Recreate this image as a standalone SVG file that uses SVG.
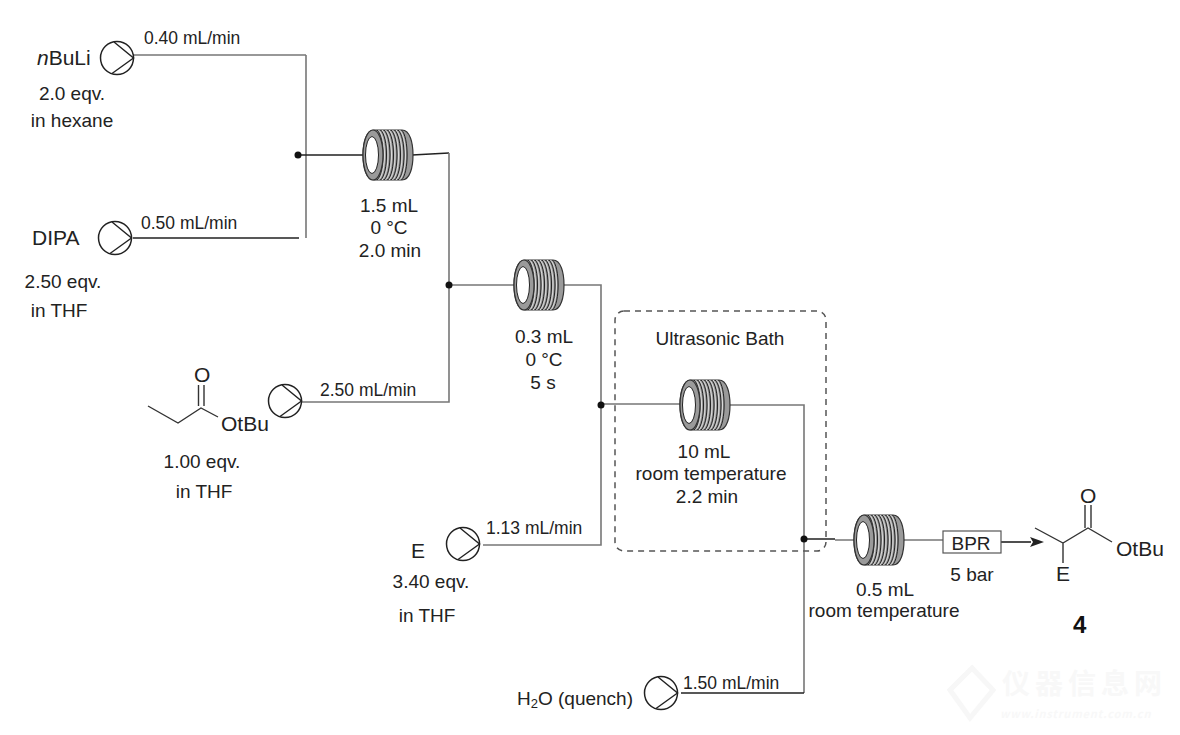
<svg xmlns="http://www.w3.org/2000/svg" width="1180" height="735" viewBox="0 0 1180 735">
<style>
text{font-family:"Liberation Sans",Arial,sans-serif;font-size:19px;fill:#222}
.m{text-anchor:middle}
.flow{font-size:17.500px}
.big{font-size:21px}
.fl{stroke:#777;stroke-width:1.6;fill:none}
.dk{stroke:#222;stroke-width:1.6;fill:none}
.bond{stroke:#333;stroke-width:1.4;fill:none}
.wm{font-family:"Noto Sans CJK SC","Liberation Sans",sans-serif;fill:#f8f8f8;font-weight:700}
</style>
<defs>
<g id="pump"><circle r="16.500" fill="#fff" stroke="#222" stroke-width="1.500"/><path d="M-3-16 16.500 0-5 15.500" fill="none" stroke="#222" stroke-width="1.400"/></g>
<g id="coil">
<path d="M-14-25H14C22-25 25-12 25 0S22 25 14 25H-14C-22 25-25 12-25 0S-22-25-14-25Z" fill="#9a9a9a" stroke="#333" stroke-width="1.200"/>
<path d="M-11-25C-3-18-3 18-11 25M-7.500-25C.5-18 .5 18-7.500 25M-4-25C4-18 4 18-4 25M-.5-25C7.500-18 7.500 18-.5 25M3-25C11-18 11 18 3 25M6.500-25C14.500-18 14.500 18 6.500 25M10-25C18-18 18 18 10 25M13.500-25C21-18 21 18 13.500 25" fill="none" stroke="#222" stroke-width="1"/>
<path d="M-9.500-25C-1.500-18-1.500 18-9.500 25M-6-25C2-18 2 18-6 25M-2.500-25C5.500-18 5.500 18-2.500 25M1-25C9-18 9 18 1 25M4.500-25C12.500-18 12.500 18 4.500 25M8-25C16-18 16 18 8 25M11.500-25C19.500-18 19.500 18 11.500 25" fill="none" stroke="#ddd" stroke-width="1"/>
<ellipse cx="-15" cy="0" rx="10" ry="25" fill="#9a9a9a" stroke="#333" stroke-width="1.200"/>
<ellipse cx="-16" cy="0" rx="6.500" ry="18.500" fill="#fff" stroke="#222" stroke-width="1"/>
</g>
</defs>
<g id="connectors">
<path class="fl" d="M133 55H306M306 55V238"/>
<path class="dk" d="M133 238H299M298 155H363M412 155L449 153"/>
<path class="fl" d="M449 153V402H301M449 285H514M563 285H601V545H483M601 404H680M729 405H804V693"/>
<path class="dk" d="M681 693H804M804 539H835"/>
<path class="fl" d="M835 540H855M904 540H943"/>
<path class="dk" d="M1001 542H1031"/>
<path d="M1044 542L1030 537 1033 542 1030 547Z" fill="#222"/>
<circle cx="298" cy="155" r="3.500" fill="#111"/><circle cx="449" cy="285" r="3.500" fill="#111"/><circle cx="601" cy="405" r="3.500" fill="#111"/><circle cx="804" cy="539" r="3.500" fill="#111"/>
</g>
<g id="bath"><rect x="615" y="311" width="211" height="240" rx="9" fill="none" stroke="#555" stroke-width="1.500" stroke-dasharray="6 5"/><text class="m" x="720" y="345">Ultrasonic Bath</text></g>
<g id="nBuLi"><use href="#pump" x="117" y="58"/><text class="big" x="37" y="65"><tspan font-style="italic">n</tspan>BuLi</text><text class="m" x="72" y="100">2.0 eqv.</text><text class="m" x="72" y="127">in hexane</text><text class="flow" x="144" y="44">0.40 mL/min</text></g>
<g id="DIPA"><use href="#pump" x="115" y="238"/><text class="big" x="32" y="245">DIPA</text><text class="m" x="63" y="288">2.50 eqv.</text><text class="m" x="59" y="317">in THF</text><text class="flow" x="141" y="229">0.50 mL/min</text></g>
<g id="coil1"><use href="#coil" x="388" y="155"/><text class="m" x="389" y="212">1.5 mL</text><text class="m" x="389" y="234">0 °C</text><text class="m" x="390" y="257">2.0 min</text></g>
<g id="ester"><use href="#pump" x="285" y="401"/><path class="bond" d="M148 406L178 423 201 408 218 417M198.500 406V385M204 406V385"/><text class="big" x="194" y="382">O</text><text class="big" x="221" y="431">OtBu</text><text class="m" x="202" y="468">1.00 eqv.</text><text class="m" x="204" y="498">in THF</text><text class="flow" x="320" y="396">2.50 mL/min</text></g>
<g id="coil2"><use href="#coil" x="539" y="285"/><text class="m" x="544" y="343">0.3 mL</text><text class="m" x="544" y="366">0 °C</text><text class="m" x="543" y="389">5 s</text></g>
<g id="coil3"><use href="#coil" x="705" y="405"/><text class="m" x="704" y="458">10 mL</text><text class="m" x="711" y="480">room temperature</text><text class="m" x="707" y="503">2.2 min</text></g>
<g id="E"><use href="#pump" x="463" y="544"/><text class="big" x="411" y="558">E</text><text class="m" x="431" y="588">3.40 eqv.</text><text class="m" x="427" y="622">in THF</text><text class="flow" x="486" y="534">1.13 mL/min</text></g>
<g id="coil4"><use href="#coil" x="879" y="540"/><text class="m" x="885" y="596">0.5 mL</text><text class="m" x="884" y="617">room temperature</text></g>
<g id="BPR"><rect x="943" y="531" width="58" height="22" fill="#fff" stroke="#555" stroke-width="1.200"/><text class="m" x="971" y="550">BPR</text><text class="m" x="972" y="581">5 bar</text></g>
<g id="product4"><path class="bond" d="M1035 528L1063 543 1088 528 1112 542M1063 543V563M1085 528V505M1091 528V505"/><text class="big" x="1080" y="503">O</text><text class="big" x="1116" y="556">OtBu</text><text class="big" x="1056" y="581">E</text><text x="1073" y="633" style="font-size:24px;font-weight:700;fill:#111">4</text></g>
<g id="quench"><use href="#pump" x="661" y="693"/><text x="517" y="705">H<tspan font-size="13" dy="3" style="font-size:13px">2</tspan><tspan dy="-3">O (quench)</tspan></text><text class="flow" x="683" y="689">1.50 mL/min</text></g>
<g id="watermark"><path d="M972 668L993 690 970 718 950 690Z" fill="none" stroke="#f7f7f7" stroke-width="5"/><text class="wm" x="1002" y="694" style="font-size:28px;letter-spacing:5px">仪器信息网</text><text class="wm" x="1000" y="718" style="font-size:11px;font-style:italic;letter-spacing:.8px">www.instrument.com.cn</text></g>
</svg>
